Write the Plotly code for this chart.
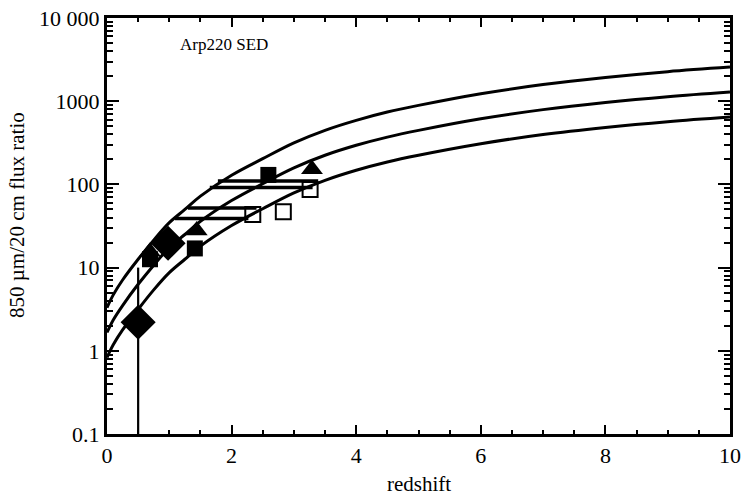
import plotly.graph_objects as go

# Model curves (Arp220 SED)
z_model = [0, 0.1, 0.25, 0.5, 0.75, 1, 1.25, 1.5, 2, 2.5, 3, 3.5, 4, 4.5, 5, 6, 7, 8, 9, 10]
ratio_high = [3.3, 4.7, 7.1, 12.6, 21.4, 34.7, 50, 72.4, 129, 204, 316, 447, 589, 741, 891, 1230, 1585, 1928, 2265, 2570]
ratio_mid = [1.66, 2.35, 3.5, 6.3, 10.7, 17.4, 25, 36, 64, 102, 158, 224, 295, 370, 446, 615, 792, 964, 1132, 1288]
ratio_low = [0.83, 1.18, 1.78, 3.15, 5.4, 8.7, 12.6, 18.1, 32, 51, 79, 112, 148, 186, 224, 308, 398, 484, 568, 646]

# Horizontal redshift ranges
bar_y = [110, 92, 52, 39]
bar_z_lo = [1.78, 1.65, 1.30, 1.09]
bar_z_hi = [3.39, 3.30, 2.40, 2.27]

# Sources
diamond_z = [0.50, 0.98]
diamond_r = [2.2, 19.6]
diamond_err_up = [7.8, 0]
diamond_err_dn = [2.19, 0]

tri_z = [0.69, 1.44, 3.29]
tri_r = [15.5, 28, 152]

sq_z = [0.69, 1.41, 2.59]
sq_r = [12.6, 17, 130]

osq_z = [2.34, 2.83, 3.26]
osq_r = [43.6, 47, 87]

ytick_vals = [0.1, 1, 10, 100, 1000, 10000]
ytick_text = ["0.1", "1", "10", "100", "1000", "10 000"]
xtick_vals = [0, 2, 4, 6, 8, 10]

FONT = "Liberation Serif"
L, R, T, B = 107, 14, 18, 61
PW, PH = 744 - L - R, 495 - T - B

fig = go.Figure()

for r in (ratio_high, ratio_mid, ratio_low):
    fig.add_trace(go.Scatter(x=z_model, y=r, mode="lines",
                             line=dict(color="black", width=3, shape="spline", smoothing=1.0),
                             hoverinfo="skip", showlegend=False))

bx, by = [], []
for y, lo, hi in zip(bar_y, bar_z_lo, bar_z_hi):
    bx += [lo, hi, None]
    by += [y, y, None]
fig.add_trace(go.Scatter(x=bx, y=by, mode="lines", line=dict(color="black", width=3.5),
                         showlegend=False))

fig.add_trace(go.Scatter(x=tri_z, y=tri_r, mode="markers",
                         marker=dict(symbol="triangle-up", size=19, color="black"),
                         showlegend=False))
fig.add_trace(go.Scatter(x=sq_z, y=sq_r, mode="markers",
                         marker=dict(symbol="square", size=16, color="black"),
                         showlegend=False))
fig.add_trace(go.Scatter(x=osq_z, y=osq_r, mode="markers",
                         marker=dict(symbol="square-open", size=15, color="black",
                                     line=dict(width=2, color="black")),
                         showlegend=False))
fig.add_trace(go.Scatter(x=diamond_z, y=diamond_r, mode="markers",
                         marker=dict(symbol="diamond", size=27, color="black"),
                         error_y=dict(type="data", symmetric=False, array=diamond_err_up,
                                      arrayminus=diamond_err_dn, color="black",
                                      thickness=2.2, width=0),
                         showlegend=False))

fig.add_annotation(text="Arp220 SED", xref="paper", yref="paper",
                   x=(178 - L) / PW, y=(495 - B - 44) / PH, xanchor="left", yanchor="middle",
                   showarrow=False, font=dict(family=FONT, size=17, color="black"))
fig.add_annotation(text="850 \u00b5m/20 cm flux ratio", xref="paper", yref="paper",
                   x=(17 - L) / PW, y=(495 - B - 215) / PH, xanchor="center", yanchor="middle",
                   textangle=-90, showarrow=False, font=dict(family=FONT, size=21, color="black"))
fig.add_annotation(text="redshift", xref="paper", yref="paper",
                   x=0.5, y=(495 - B - 484) / PH, xanchor="center", yanchor="middle",
                   showarrow=False, font=dict(family=FONT, size=21, color="black"))

fig.update_layout(
    width=744, height=495,
    margin=dict(l=L, r=R, t=T, b=B),
    plot_bgcolor="white", paper_bgcolor="white",
    font=dict(family=FONT, size=22, color="black"),
    xaxis=dict(range=[0, 10], tickvals=xtick_vals, ticks="inside", ticklen=9, tickwidth=2,
               tickcolor="black", showline=True, linewidth=3, linecolor="black",
               mirror="allticks", showgrid=False, zeroline=False, automargin=False,
               minor=dict(dtick=0.5, ticks="inside", ticklen=4, tickwidth=2, tickcolor="black",
                          showgrid=False)),
    yaxis=dict(type="log", range=[-1, 4], tickvals=ytick_vals, ticktext=ytick_text,
               ticks="inside", ticklen=12, tickwidth=2, tickcolor="black",
               showline=True, linewidth=3, linecolor="black", mirror="allticks",
               showgrid=False, zeroline=False, automargin=False,
               minor=dict(dtick="D1", ticks="inside", ticklen=6, tickwidth=2, tickcolor="black",
                          showgrid=False)),
)

fig.write_html("out.html")
